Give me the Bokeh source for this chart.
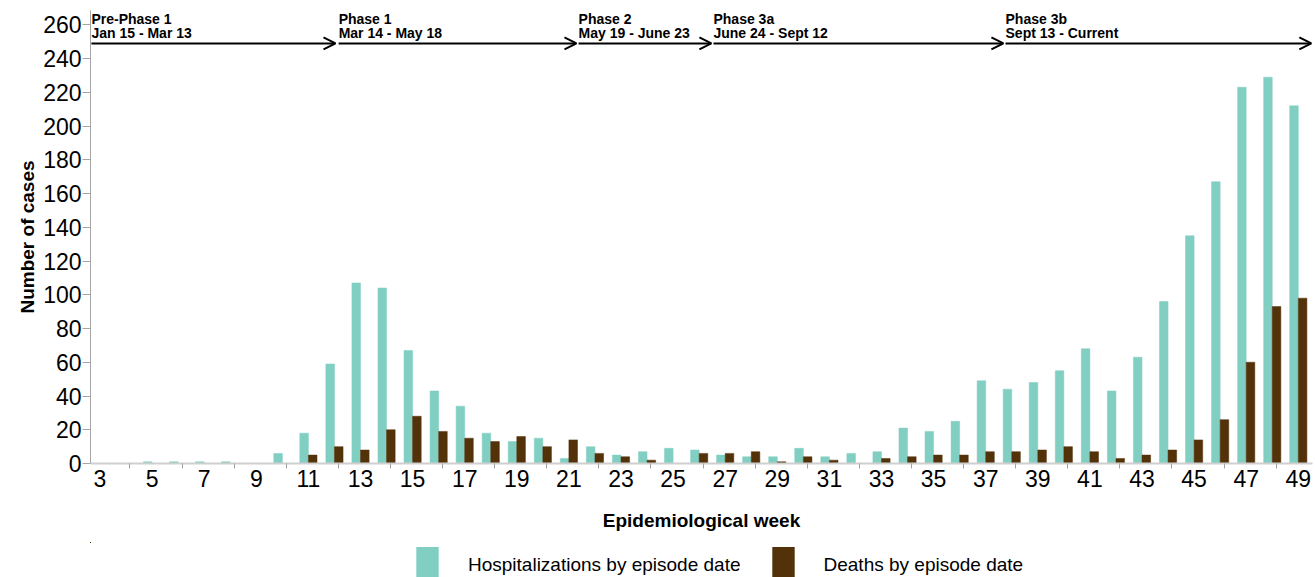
from bokeh.plotting import figure
from bokeh.layouts import column
from bokeh.models import (Range1d, FixedTicker, Arrow, OpenHead, Legend, LegendItem,
                          ColumnDataSource)
from bokeh.core.properties import value
from bokeh.embed import file_html
from bokeh.resources import INLINE

# ---------------- data ----------------
weeks = list(range(3, 50))
hospitalizations = [0, 0, 1, 1, 1, 1, 0, 6, 18, 59, 107, 104, 67, 43, 34, 18, 13, 15, 3, 10,
                    5, 7, 9, 8, 5, 4, 4, 9, 4, 6, 7, 21, 19, 25, 49, 44, 48, 55, 68, 43,
                    63, 96, 135, 167, 223, 229, 212]
deaths = [0, 0, 0, 0, 0, 0, 0, 0, 5, 10, 8, 20, 28, 19, 15, 13, 16, 10, 14, 6,
          4, 2, 0, 6, 6, 7, 1, 4, 2, 0, 3, 4, 5, 5, 7, 7, 8, 10, 7, 3,
          5, 8, 14, 26, 60, 93, 98]
label_weeks = list(range(3, 50, 2))
tick_weeks = list(range(4, 50, 2))
y_ticks = list(range(0, 261, 20))

phase_names = ["Pre-Phase 1", "Phase 1", "Phase 2", "Phase 3a", "Phase 3b"]
phase_dates = ["Jan 15 - Mar 13", "Mar 14 - May 18", "May 19 - June 23",
               "June 24 - Sept 12", "Sept 13 - Current"]
phase_start = [2.67, 12.16, 21.37, 26.55, 37.76]
phase_end = [12.04, 21.29, 26.47, 37.68, 49.50]

series_labels = ["Hospitalizations by episode date", "Deaths by episode date"]

TEAL = "#80CFC2"
BROWN = "#53320A"
FONT = "Liberation Sans"

# ---------------- main figure ----------------
p = figure(width=1315, height=542, output_backend="svg", toolbar_location=None,
           x_range=Range1d(2.635, 49.545), y_range=Range1d(0, 268.5),
           min_border_left=90, min_border_right=3, min_border_top=10, min_border_bottom=79)
p.outline_line_color = None
p.grid.visible = False

bw = 0.33
src = ColumnDataSource(dict(
    xh=[w - bw / 2 for w in weeks],
    xd=[w + bw / 2 for w in weeks],
    hosp=hospitalizations,
    death=deaths,
))
p.vbar(x="xh", top="hosp", bottom=0, width=bw, source=src,
       fill_color=TEAL, line_color=TEAL, line_width=0.5)
p.vbar(x="xd", top="death", bottom=0, width=bw, source=src,
       fill_color=BROWN, line_color=BROWN, line_width=0.5)

# axes
xa = p.xaxis[0]
xa.ticker = FixedTicker(ticks=label_weeks, minor_ticks=[w + 0.15 for w in tick_weeks])
xa.major_tick_out = 0
xa.major_tick_in = 0
xa.minor_tick_out = 5
xa.minor_tick_in = 0
xa.minor_tick_line_color = "#A0A0A0"
xa.axis_line_color = "#CFCFCF"
xa.axis_line_width = 2
xa.major_label_text_font = FONT
xa.major_label_text_font_size = "23px"
xa.major_label_text_color = "black"
xa.major_label_standoff = 1
xa.axis_label = "Epidemiological week"
xa.axis_label_text_font = FONT
xa.axis_label_text_font_style = "bold"
xa.axis_label_text_font_size = "19px"
xa.axis_label_text_color = "black"
xa.axis_label_standoff = 20

ya = p.yaxis[0]
ya.ticker = FixedTicker(ticks=y_ticks, minor_ticks=[])
ya.major_tick_out = 8
ya.major_tick_in = 0
ya.major_tick_line_color = "#A6A6A6"
ya.axis_line_color = "#A6A6A6"
ya.major_label_text_font = FONT
ya.major_label_text_font_size = "23px"
ya.major_label_text_color = "black"
ya.major_label_standoff = 1
ya.axis_label = "Number of cases"
ya.axis_label_text_font = FONT
ya.axis_label_text_font_style = "bold"
ya.axis_label_text_font_size = "19px"
ya.axis_label_text_color = "black"
ya.axis_label_standoff = 2

# phase annotations
psrc = ColumnDataSource(dict(x0=phase_start, x1=phase_end,
                             y=[249.0] * len(phase_start),
                             yn=[263.3] * len(phase_start),
                             yd=[255.3] * len(phase_start),
                             name=phase_names, dates=phase_dates))
p.text(x="x0", y="yn", text="name", source=psrc, text_font=value(FONT),
       text_font_style="bold", text_font_size="14px", text_color="black",
       text_align="left", text_baseline="alphabetic")
p.text(x="x0", y="yd", text="dates", source=psrc, text_font=value(FONT),
       text_font_style="bold", text_font_size="14px", text_color="black",
       text_align="left", text_baseline="alphabetic")
p.add_layout(Arrow(x_start="x0", y_start="y", x_end="x1", y_end="y", source=psrc,
                   line_color="black", line_width=2,
                   end=OpenHead(size=12, line_width=2, line_color="black")))

# ---------------- legend strip ----------------
# same series drawn far out of view so the legend has real renderers
lf = figure(width=1315, height=35, output_backend="svg", toolbar_location=None,
            x_range=Range1d(1000, 1001), y_range=Range1d(-1000, -999),
            x_axis_location=None, y_axis_location=None,
            min_border_left=0, min_border_right=0, min_border_top=0, min_border_bottom=0)
lf.outline_line_color = None
lf.grid.visible = False
lh = lf.vbar(x="xh", top="hosp", bottom=0, width=bw, source=src,
             fill_color=TEAL, line_color=None)
ld = lf.vbar(x="xd", top="death", bottom=0, width=bw, source=src,
             fill_color=BROWN, line_color=None)
legend = Legend(items=[LegendItem(label=series_labels[0], renderers=[lh]),
                       LegendItem(label=series_labels[1], renderers=[ld])],
                location=(323, -10), orientation="horizontal",
                glyph_width=28, glyph_height=45, label_height=45,
                label_standoff=27, spacing=28, padding=0, margin=0,
                border_line_color=None, background_fill_alpha=0,
                label_text_font=FONT, label_text_font_size="19px",
                label_text_color="black")
lf.add_layout(legend, "center")

open("out.html", "w").write(file_html(column(p, lf, spacing=0), INLINE))
